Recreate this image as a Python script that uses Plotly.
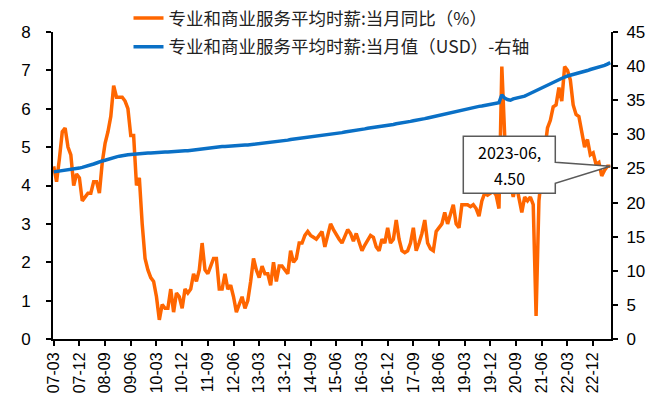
import pandas as pd
import plotly.graph_objects as go

# Monthly categories 2007-03 .. 2023-06 (YY-MM)
months = list(pd.date_range("2007-03-01", "2023-06-01", freq="MS").strftime("%y-%m"))

yoy = [
    4.5, 4.1, 4.7, 5.4, 5.5, 5.0, 4.8, 4.0, 4.3, 4.2,                    # 2007
    3.6, 3.7, 3.8, 3.8, 4.1, 4.1, 3.8, 4.6, 5.1, 5.4, 5.8, 6.6,          # 2008
    6.3, 6.3, 6.3, 6.2, 6.0, 5.3, 5.3, 4.0, 4.2, 3.0, 2.1, 1.8,          # 2009
    1.6, 1.5, 1.1, 0.5, 0.9, 0.8, 0.8, 1.3, 0.7, 1.2, 1.1, 0.8,          # 2010
    1.3, 1.2, 1.3, 1.7, 1.5, 1.8, 2.5, 1.8, 1.7, 1.9, 2.1, 2.1,          # 2011
    1.3, 1.3, 1.7, 1.3, 1.4, 1.1, 0.7, 0.9, 1.1, 0.8, 1.0, 1.5,          # 2012
    2.1, 1.8, 1.6, 1.9, 1.7, 1.7, 1.4, 2.0, 1.5, 1.9, 1.9, 1.8,          # 2013
    1.7, 2.3, 2.0, 2.1, 2.5, 2.5, 2.7, 2.8, 2.7, 2.65, 2.6, 2.7,         # 2014
    2.8, 2.4, 2.75, 3.0, 2.85, 2.7, 2.6, 2.5, 2.7, 2.85, 2.75, 2.55,     # 2015
    2.75, 2.5, 2.3, 2.45, 2.6, 2.7, 2.65, 2.4, 2.3, 2.6, 2.5, 2.9,       # 2016
    2.5, 2.6, 3.1, 2.6, 2.3, 2.25, 2.3, 2.5, 2.9, 2.3, 2.5, 2.75,        # 2017
    3.1, 2.5, 2.35, 2.3, 2.8, 2.9, 3.0, 3.3, 3.0, 3.25, 3.5, 3.0,        # 2018
    2.9, 3.5, 3.5, 3.5, 3.45, 3.5, 3.4, 3.2, 3.6, 3.8, 3.75, 3.8,        # 2019
    3.85, 3.75, 3.4, 7.1, 5.3, 4.4, 4.0, 3.7, 4.05, 3.65, 3.3, 3.7,      # 2020
    3.6, 3.7, 3.5, 0.6, 3.6, 4.3, 4.9, 5.5, 5.7, 6.05, 6.1, 6.55,        # 2021
    6.2, 7.1, 7.0, 6.75, 6.1, 5.85, 5.8, 5.4, 5.0, 5.2, 4.8, 4.85,       # 2022
    4.55, 4.6, 4.25, 4.4, 4.5, 4.5,                                      # 2023
]

level = [
    24.5, 24.55, 24.6, 24.65, 24.7, 24.75, 24.85, 24.9, 25.0, 25.05,
    25.15, 25.25, 25.35, 25.5, 25.65, 25.8, 26.0, 26.1, 26.2, 26.35, 26.5, 26.6,
    26.7, 26.8, 26.9, 26.95, 27.0, 27.05, 27.1, 27.1, 27.15, 27.2, 27.2, 27.25,
    27.25, 27.3, 27.3, 27.35, 27.35, 27.4, 27.4, 27.45, 27.5, 27.5, 27.55, 27.55,
    27.6, 27.6, 27.65, 27.75, 27.85, 27.9, 27.95, 28.0, 28.0, 28.05, 28.1, 28.1,
    28.15, 28.2, 28.2, 28.25, 28.25, 28.3, 28.3, 28.35, 28.4, 28.45, 28.45, 28.5,
    28.55, 28.6, 28.6, 28.65, 28.7, 28.75, 28.75, 28.8, 28.85, 28.9, 29.0, 29.05,
    29.15, 29.25, 29.3, 29.35, 29.45, 29.5, 29.55, 29.65, 29.7, 29.75, 29.8, 29.85,
    29.9, 29.95, 30.0, 30.05, 30.1, 30.15, 30.2, 30.25, 30.35, 30.4, 30.45, 30.5,
    30.6, 30.65, 30.7, 30.8, 30.9, 30.95, 31.0, 31.1, 31.15, 31.2, 31.3, 31.35,
    31.4, 31.45, 31.55, 31.6, 31.7, 31.75, 31.85, 31.9, 32.0, 32.05, 32.15, 32.25,
    32.3, 32.4, 32.5, 32.6, 32.7, 32.8, 32.9, 33.0, 33.05, 33.15, 33.25, 33.35,
    33.45, 33.55, 33.6, 33.7, 33.8, 33.9, 34.0, 34.1, 34.15, 34.25, 34.3, 34.4,
    34.45, 34.55, 34.65, 35.8, 35.3, 35.1, 35.0, 35.2, 35.3, 35.3, 35.5, 35.6,
    35.8, 36.0, 36.2, 36.4, 36.6, 36.9, 37.1, 37.3, 37.5, 37.7, 37.9, 38.1,
    38.25, 38.4, 38.55, 38.65, 38.75, 38.85, 38.95, 39.1, 39.2, 39.35, 39.5, 39.6,
    39.75, 39.85, 40.0, 40.1, 40.3, 40.5,
]

tick_labels = ["07-03", "07-12", "08-09", "09-06", "10-03", "10-12", "11-09",
               "12-06", "13-03", "13-12", "14-09", "15-06", "16-03", "16-12",
               "17-09", "18-06", "19-03", "19-12", "20-09", "21-06", "22-03", "22-12"]

name_yoy = "专业和商业服务平均时薪:当月同比（%）"
name_lvl = "专业和商业服务平均时薪:当月值（USD）-右轴"

assert len(months) == len(yoy) == len(level), (len(months), len(yoy), len(level))

ORANGE = "#FF6600"
BLUE = "#0A70C6"
num_font = "Liberation Sans, Arial, sans-serif"
cjk_font = "Noto Sans CJK SC, sans-serif"

fig = go.Figure()
fig.add_trace(go.Scatter(x=months, y=yoy, name=name_yoy, mode="lines",
                         line=dict(color=ORANGE, width=3.5), legendgroup="a"))
fig.add_trace(go.Scatter(x=months, y=level, name=name_lvl, mode="lines", yaxis="y2",
                         line=dict(color=BLUE, width=3.5), legendgroup="b"))

axis_common = dict(showline=True, linecolor="black", linewidth=2, ticks="outside",
                   tickcolor="black", tickwidth=1.5, ticklen=5, showgrid=False,
                   zeroline=False, automargin=False,
                   tickfont=dict(family=num_font, size=17, color="black"))

fig.update_layout(
    width=649, height=398,
    margin=dict(l=53, r=38, t=32, b=59, autoexpand=False),
    paper_bgcolor="white", plot_bgcolor="white",
    showlegend=True,
    legend=dict(xref="container", yref="container", x=0.198, y=1.012,
                xanchor="left", yanchor="top",
                bgcolor="rgba(0,0,0,0)", traceorder="grouped", tracegroupgap=3,
                font=dict(family=cjk_font, size=17.5, color="#222222")),
    xaxis=dict(type="category", range=[-0.25, len(months) - 0.75],
               tickmode="array", tickvals=tick_labels, ticktext=tick_labels,
               tickangle=-90, **axis_common),
    yaxis=dict(range=[0, 8], dtick=1, ticklabelstandoff=12, **axis_common),
    yaxis2=dict(range=[0, 45], dtick=5, overlaying="y", side="right",
                anchor="x", ticklabelstandoff=5, **axis_common),
)
fig.update_xaxes(tickfont=dict(family=num_font, size=16, color="black"))

# Callout box pointing to the latest observation
last_x, last_y = months[-1], yoy[-1]
fig.add_shape(type="path", xref="x", yref="y", layer="above",
              xsizemode="pixel", ysizemode="pixel", xanchor=last_x, yanchor=last_y,
              path="M -147,30 L -55,30 L -55,4 L 0,0 L -55,-17 L -55,-27 L -147,-27 Z",
              fillcolor="white", line=dict(color="#5A5A5A", width=1.5))
fig.add_annotation(x=last_x, y=last_y, xref="x", yref="y", showarrow=False,
                   xshift=-101, yshift=14, text=f"20{last_x},",
                   font=dict(family=cjk_font, size=16, color="black"))
fig.add_annotation(x=last_x, y=last_y, xref="x", yref="y", showarrow=False,
                   xshift=-101, yshift=-12, text=f"{last_y:.2f}",
                   font=dict(family=cjk_font, size=16, color="black"))

fig.write_html("out.html")
